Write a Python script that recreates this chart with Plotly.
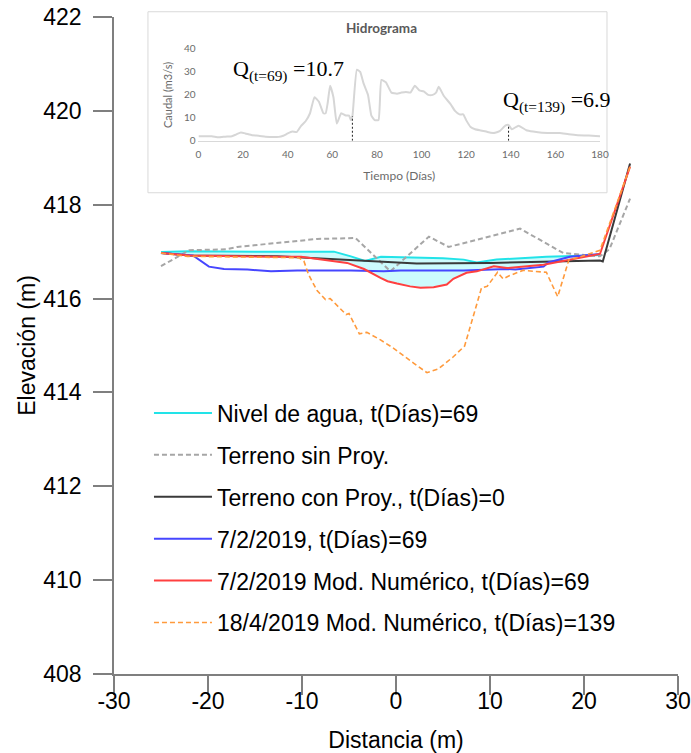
import plotly.graph_objects as go

# ---- Cross-section profiles (distance in m, elevation in m) ----
water_x = [-25, -22, -15, -6.6, -4.8, -3.3, -1.6, 2.2, 5, 7.2, 8.6, 10.7, 16, 20.6, 21.7]
water_y = [416.99, 417.01, 417.0, 417.0, 416.90, 416.80, 416.89, 416.87, 416.86, 416.83,
           416.77, 416.83, 416.89, 416.92, 416.93]

natural_x = [-25.0, -22.0, -18.1, -16.9, -8.4, -4.3, -0.6, 3.5, 5.6, 13.2, 17.8, 21.7, 22.7, 24.9]
natural_y = [416.69, 417.03, 417.05, 417.10, 417.27, 417.29, 416.58, 417.32, 417.10, 417.49,
             416.97, 416.90, 417.05, 418.13]

project_x = [-25, -22, -12.6, -3.4, 2.2, 10, 21.7, 22.0, 24.9]
project_y = [416.97, 416.92, 416.90, 416.80, 416.75, 416.76, 416.81, 416.79, 418.88]

survey_x = [-25, -21.6, -19.9, -18.3, -15.8, -13.3, -10.5, -4.8, -1.3, 0.5, 4.4, 7.2, 11.8,
            12.7, 15.7, 16.2, 18.5, 21.7]
survey_y = [416.97, 416.92, 416.68, 416.63, 416.62, 416.58, 416.60, 416.60, 416.58, 416.60,
            416.60, 416.60, 416.63, 416.62, 416.68, 416.77, 416.89, 416.95]

model69_x = [-25, -22, -12.6, -10.1, -5.2, -3.4, -1.65, -0.9, 0.1, 1.5, 2.6, 4.0, 5.4, 6.1,
             7.5, 8.6, 10.4, 11.8, 15.7, 18.5, 21.7, 24.9]
model69_y = [416.97, 416.92, 416.89, 416.89, 416.76, 416.63, 416.44, 416.37, 416.32, 416.26,
             416.23, 416.24, 416.30, 416.42, 416.55, 416.58, 416.69, 416.65, 416.72, 416.83,
             416.95, 418.81]

model139_x = [-25, -22.2, -10.3, -9.8, -9.3, -8.4, -7.5, -7.0, -5.3, -5.0, -3.9, -3.1, -1.65,
              -0.25, 1.9, 3.3, 4.5, 6.1, 7.3, 8.2, 9.1, 9.7, 10.8, 11.4, 12.1, 13.5, 16.0,
              16.2, 17.2, 18.4, 19.6, 21.7, 24.9]
model139_y = [416.97, 416.90, 416.87, 416.80, 416.51, 416.17, 415.98, 416.00, 415.66, 415.68,
              415.25, 415.28, 415.12, 414.94, 414.62, 414.42, 414.50, 414.76, 414.99, 415.62,
              416.23, 416.26, 416.56, 416.42, 416.49, 416.60, 416.56, 416.47, 416.04, 416.83,
              416.89, 417.03, 418.81]

# ---- Hydrograph (days, m3/s) ----
hydro_days = [0, 3, 6, 9, 12, 15, 17, 19, 21, 24, 27, 30, 33, 36, 38, 40, 42, 44, 46, 48, 50,
              52, 54, 56, 57, 58, 59, 60.5, 62, 64, 66, 67.5, 68.3, 69, 71, 72.5, 74, 76, 77.5,
              79, 80.7, 82, 84, 86.5, 89, 91, 93, 95, 97, 99, 101, 103, 105, 106.5, 107.7,
              110, 113, 115, 117, 118.7, 120, 122, 124, 126.5, 129, 131, 133, 135, 137.7, 139,
              140.5, 143.5, 147, 150, 154, 158, 162, 166, 170, 175, 180]
hydro_q = [2, 2, 2, 1.5, 1.8, 2, 2.8, 3.6, 3.2, 2.4, 2.2, 1.8, 1.7, 1.7, 2.2, 3.2, 4, 3.8,
           6.5, 8.5, 12, 19, 17, 12, 12, 17, 24, 19, 7.5, 12, 11, 11, 9, 10.7, 31, 30, 25, 20,
           11, 9, 9, 26.5, 25.5, 21, 20.5, 21, 21.3, 21, 24, 22, 21.5, 20, 20, 21, 23.5, 19.5,
           16, 13, 11.5, 11.5, 9, 6, 5, 4.5, 4, 3.5, 3.5, 4.2, 6.7, 6.9, 5, 6.6, 4.6, 4,
           3.5, 3.4, 3.4, 2.8, 2.4, 2.3, 2]
marker_days = [69, 139]
marker_q = [10.7, 6.9]

x_ticks = [-30, -20, -10, 0, 10, 20, 30]
x_tick_labels = ["-30", "-20", "-10", "0", "10", "20", "30"]
y_ticks = [408, 410, 412, 414, 416, 418, 420, 422]
hydro_day_ticks = list(range(0, 181, 20))
hydro_q_ticks = [0, 10, 20, 30, 40]

names = ["Nivel de agua, t(Días)=69", "Terreno sin Proy.", "Terreno con Proy., t(Días)=0",
         "7/2/2019, t(Días)=69", "7/2/2019 Mod. Numérico, t(Días)=69",
         "18/4/2019 Mod. Numérico, t(Días)=139"]

SANS = "Liberation Sans, Arial, sans-serif"
SERIF = "Liberation Serif, Times New Roman, serif"
INSET = "Lato, Open Sans, sans-serif"

fig = go.Figure()

# water body between the free surface and the simulated bed
fill_x = water_x + model69_x[:-1][::-1]
fill_y = water_y + model69_y[:-1][::-1]
fig.add_trace(go.Scatter(x=fill_x, y=fill_y, fill="toself", fillcolor="#ccfbfd",
                         line=dict(width=0), mode="lines", showlegend=False, hoverinfo="skip"))

fig.add_trace(go.Scatter(x=water_x, y=water_y, mode="lines", name=names[0], legendgroup="a",
                         line=dict(color="#22e3e8", width=2)))
fig.add_trace(go.Scatter(x=natural_x, y=natural_y, mode="lines", name=names[1], legendgroup="b",
                         line=dict(color="#a6a6a6", width=2, dash="5px,3px")))
fig.add_trace(go.Scatter(x=project_x, y=project_y, mode="lines", name=names[2], legendgroup="c",
                         line=dict(color="#3a3a3a", width=2)))
fig.add_trace(go.Scatter(x=survey_x, y=survey_y, mode="lines", name=names[3], legendgroup="d",
                         line=dict(color="#4646ff", width=2)))
fig.add_trace(go.Scatter(x=model69_x, y=model69_y, mode="lines", name=names[4], legendgroup="e",
                         line=dict(color="#ff4040", width=2)))
fig.add_trace(go.Scatter(x=model139_x, y=model139_y, mode="lines", name=names[5], legendgroup="f",
                         line=dict(color="#ff9a3c", width=1.6, dash="5px,3px")))

# hydrograph inset
fig.add_trace(go.Scatter(x=hydro_days, y=hydro_q, mode="lines", xaxis="x2", yaxis="y2",
                         line=dict(color="#d6d6d6", width=2, shape="spline", smoothing=0.4),
                         showlegend=False, hoverinfo="skip"))
for d, q in zip(marker_days, marker_q):
    fig.add_trace(go.Scatter(x=[d, d], y=[0, q], mode="lines", xaxis="x2", yaxis="y2",
                             line=dict(color="#222222", width=1, dash="2px,2px"),
                             showlegend=False, hoverinfo="skip"))

fig.add_shape(type="rect", xref="paper", yref="paper", x0=0.0602, x1=0.8741, y0=0.7325, y1=1.008,
              line=dict(color="#d9d9d9", width=1), fillcolor="white", layer="below")

axis_common = dict(showgrid=False, zeroline=False, showline=True, linecolor="#7f7f7f",
                   linewidth=1.5, ticks="outside", ticklen=19, tickwidth=1.5, tickcolor="#7f7f7f",
                   automargin=False, ticklabeloverflow="allow",
                   tickfont=dict(family=SANS, size=23, color="black"))

fig.update_layout(
    width=691, height=753,
    margin=dict(l=114, r=13, t=17, b=79),
    paper_bgcolor="white", plot_bgcolor="rgba(0,0,0,0)",
    xaxis=dict(range=[-30, 30], tickvals=x_ticks, ticktext=x_tick_labels, ticklabelstandoff=-13,
               title=dict(text="Distancia (m)", font=dict(family=SANS, size=23, color="black"),
                          standoff=20),
               **axis_common),
    yaxis=dict(range=[408, 422], tickvals=y_ticks, ticklabelstandoff=7,
               title=dict(text="Elevación (m)", font=dict(family=SANS, size=23, color="black"),
                          standoff=1),
               **axis_common),
    xaxis2=dict(domain=[0.1498, 0.8617], anchor="y2", range=[0, 180], tickvals=hydro_day_ticks,
                showgrid=False, zeroline=False, showline=True, linecolor="#d9d9d9", linewidth=1,
                ticks="", automargin=False, ticklabelstandoff=4,
                tickfont=dict(family=INSET, size=10, color="#6b6b6b"),
                title=dict(text="Tiempo (Días)", font=dict(family=INSET, size=12, color="#6b6b6b"),
                           standoff=12)),
    yaxis2=dict(domain=[0.8116, 0.9513], anchor="x2", range=[0, 40], tickvals=hydro_q_ticks,
                showgrid=False, zeroline=False, showline=False, ticks="", automargin=False,
                ticklabelstandoff=2,
                tickfont=dict(family=INSET, size=10, color="#6b6b6b"),
                title=dict(text="Caudal (m3/s)", font=dict(family=INSET, size=11, color="#6b6b6b"),
                           standoff=9)),
    legend=dict(x=0.062, y=0.43, xanchor="left", yanchor="top", bgcolor="rgba(0,0,0,0)",
                font=dict(family=SANS, size=23, color="black"), itemwidth=58,
                tracegroupgap=9),
    showlegend=True,
    annotations=[
        dict(text="<b>Hidrograma</b>", xref="paper", yref="paper", x=0.474, y=0.9837,
             xanchor="center", yanchor="middle", showarrow=False,
             font=dict(family=INSET, size=13.5, color="#595959")),
        dict(text="Q<sub>(t=69)</sub> =10.7", xref="paper", yref="paper", x=0.208, y=0.919,
             xanchor="left", yanchor="middle", showarrow=False,
             font=dict(family=SERIF, size=22, color="black")),
        dict(text="Q<sub>(t=139)</sub> =6.9", xref="paper", yref="paper", x=0.687, y=0.871,
             xanchor="left", yanchor="middle", showarrow=False,
             font=dict(family=SERIF, size=22, color="black")),
    ],
)

fig.write_html("out.html")
